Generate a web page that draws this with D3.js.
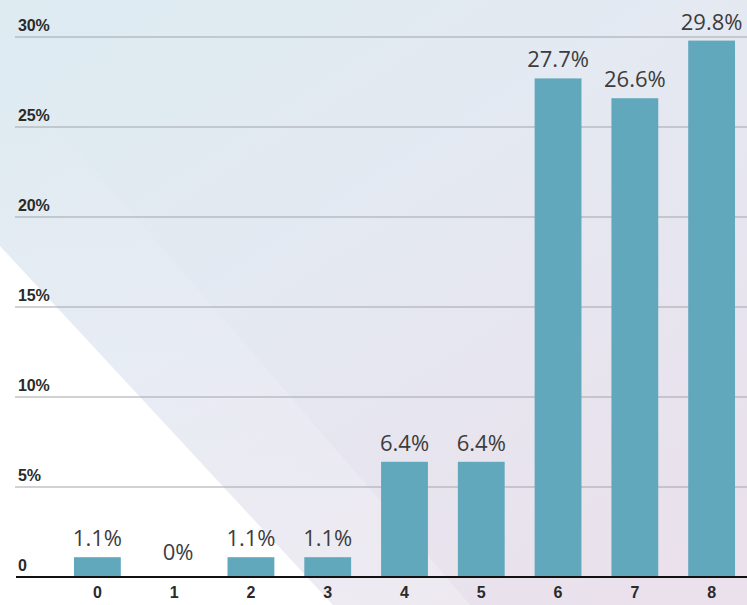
<!DOCTYPE html>
<html><head><meta charset="utf-8">
<script src="https://cdn.jsdelivr.net/npm/d3@7"></script>
<style>html,body{margin:0;padding:0;background:#fff;}svg{display:block;}</style>
</head><body>
<script>
const categories = ["0","1","2","3","4","5","6","7","8"];
const values = [1.1, 0, 1.1, 1.1, 6.4, 6.4, 27.7, 26.6, 29.8];
const valueLabels = ["1.1%","0%","1.1%","1.1%","6.4%","6.4%","27.7%","26.6%","29.8%"];
const yTicks = [0, 5, 10, 15, 20, 25, 30];
const yTickLabels = ["0","5%","10%","15%","20%","25%","30%"];

const W = 747, H = 605;
const svg = d3.select("body").append("svg").attr("width", W).attr("height", H);
const defs = svg.append("defs");

// background
const bg = defs.append("linearGradient").attr("id","bg").attr("x1","0").attr("y1","0").attr("x2","0.8").attr("y2","1");
bg.append("stop").attr("offset","0").attr("stop-color","#ddebf1");
bg.append("stop").attr("offset","0.45").attr("stop-color","#e4e9f2");
bg.append("stop").attr("offset","1").attr("stop-color","#eae1ec");
svg.append("rect").attr("width",W).attr("height",H).attr("fill","url(#bg)");

const sg = defs.append("linearGradient").attr("id","sg").attr("x1","0").attr("y1","0").attr("x2","0").attr("y2","1");
sg.append("stop").attr("offset","0").attr("stop-color","#ffffff").attr("stop-opacity",0.0);
sg.append("stop").attr("offset","1").attr("stop-color","#ffffff").attr("stop-opacity",0.25);
svg.append("polygon").attr("points","0,60 0,246 333,605 470,605").attr("fill","url(#sg)");
svg.append("polygon").attr("points","0,246 333,605 0,605").attr("fill","#ffffff");

const x = d3.scaleBand().domain(categories).range([59, 750]).paddingInner(0.39).paddingOuter(0.195);
const y = d3.scaleLinear().domain([0, 30]).range([577, 37]);

// gridlines
svg.append("g").selectAll("line").data(yTicks.filter(d => d > 0)).join("line")
  .attr("x1", 15).attr("x2", W).attr("y1", d => y(d)).attr("y2", d => y(d))
  .attr("stroke", "#a2a6ac").attr("stroke-width", 1.2);

// y labels
svg.append("g").selectAll("text").data(yTicks).join("text")
  .attr("x", 18).attr("y", d => y(d) - 6)
  .attr("font-family", "Arial, 'Liberation Sans', sans-serif")
  .attr("font-weight", "bold").attr("font-size", 16).attr("letter-spacing", -0.2)
  .attr("fill", "#2a2a2a")
  .text((d, i) => yTickLabels[i]);

// bars
svg.append("g").selectAll("rect").data(values).join("rect")
  .attr("x", (d, i) => x(categories[i])).attr("width", x.bandwidth())
  .attr("y", d => y(d)).attr("height", d => y(0) - y(d))
  .attr("fill", "#62a8bc");

// value labels
svg.append("g").selectAll("text").data(values).join("text")
  .attr("x", (d, i) => x(categories[i]) + x.bandwidth() / 2 + (d === 0 ? 4 : 0))
  .attr("y", d => y(d) - (d === 0 ? 17 : 11))
  .attr("text-anchor", "middle")
  .attr("font-family", "'Open Sans', sans-serif").attr("font-size", 22)
  .attr("fill", "#3c3c3c")
  .text((d, i) => valueLabels[i]);

// x axis
const xAxis = svg.append("g").attr("transform", `translate(0,${y(0)})`)
  .call(d3.axisBottom(x).tickSize(0).tickPadding(10));
xAxis.select(".domain").remove();
xAxis.selectAll("text").attr("font-family", "Arial, 'Liberation Sans', sans-serif")
  .attr("font-weight", "bold").attr("font-size", 16).attr("fill", "#2a2a2a");
svg.append("line").attr("x1", 16).attr("x2", W).attr("y1", y(0)).attr("y2", y(0))
  .attr("stroke", "#111").attr("stroke-width", 2.2);
</script>
</body></html>
